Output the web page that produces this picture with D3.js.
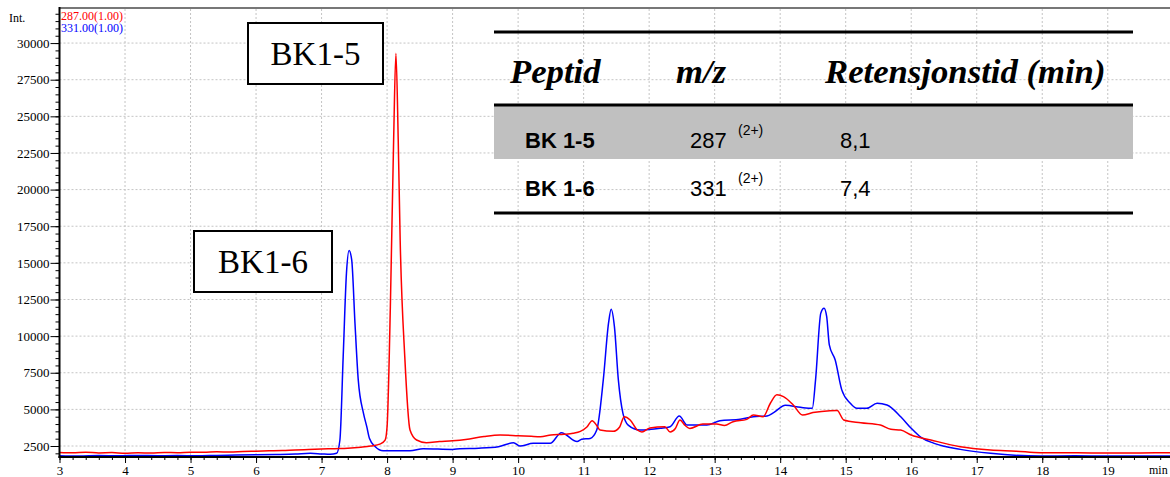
<!DOCTYPE html>
<html>
<head>
<meta charset="utf-8">
<script src="https://cdn.jsdelivr.net/npm/d3@7"></script>
<style>
  html, body { margin: 0; padding: 0; background: #fff; }
  svg { display: block; }
</style>
</head>
<body>
<div id="chart"></div>
<script>
// retention time (min) and intensity for m/z 287 (red)
var redTime = [3.0, 3.2, 3.4, 3.6, 3.8, 4.0, 4.2, 4.4, 4.6, 4.8, 5.0, 5.2, 5.4, 5.6, 5.8, 6.0, 6.2, 6.4, 6.6, 6.8,
  7.0, 7.2, 7.4, 7.6, 7.75, 7.9, 7.97, 8.0, 8.05, 8.1, 8.135, 8.17, 8.2, 8.27, 8.35, 8.45, 8.6, 8.8, 9.0, 9.2,
  9.48, 9.725, 10.0, 10.2, 10.34, 10.5, 10.7, 10.84, 10.95, 11.05, 11.13, 11.2, 11.25, 11.45, 11.55, 11.62, 11.71, 11.82, 11.89, 12.01,
  12.24, 12.32, 12.4, 12.47, 12.55, 12.62, 12.82, 13.03, 13.15, 13.28, 13.49, 13.59, 13.74, 13.85, 13.95, 14.05, 14.2, 14.34, 14.5, 14.76,
  14.87, 14.97, 15.23, 15.53, 15.69, 15.84, 16.0, 16.3, 16.75, 17.21, 17.6, 17.97, 18.5, 19.0, 19.5, 19.95];
var redInt = [2060, 2040, 2070, 2030, 2050, 2010, 2040, 2020, 2060, 2040, 2080, 2070, 2100, 2090, 2130, 2150, 2170, 2190, 2230, 2260,
  2290, 2320, 2350, 2420, 2500, 2650, 2900, 3820, 12000, 23400, 29300, 23400, 16500, 8600, 3590, 2910, 2730, 2800, 2860, 2950,
  3150, 3250, 3200, 3160, 3140, 3250, 3300, 3370, 3500, 3800, 4230, 3900, 3590, 3500, 3800, 4500, 4280, 3590, 3456, 3730,
  3820, 3460, 3700, 4280, 3900, 3700, 4000, 4000, 3900, 4160, 4320, 4620, 4500, 5420, 5990, 5870, 5300, 4620, 4780, 4910,
  4920, 4280, 4090, 3930, 3640, 3590, 3250, 2910, 2450, 2230, 2150, 2040, 2040, 2020, 2030, 2040];

// retention time (min) and intensity for m/z 331 (blue)
var blueTime = [3.0, 3.3, 3.6, 3.9, 4.2, 4.5, 4.8, 5.1, 5.4, 5.7, 6.0, 6.3, 6.6, 6.83, 7.0, 7.13, 7.23, 7.28, 7.33, 7.38,
  7.42, 7.46, 7.51, 7.56, 7.64, 7.69, 7.73, 7.82, 7.94, 8.35, 8.55, 9.0, 9.11, 9.4, 9.7, 9.93, 10.03, 10.23, 10.49, 10.66,
  10.9, 10.97, 11.1, 11.2, 11.3, 11.38, 11.42, 11.47, 11.53, 11.6, 11.68, 11.86, 12.17, 12.32, 12.46, 12.58, 12.88, 13.08, 13.39, 13.59,
  13.8, 13.9, 14.08, 14.31, 14.49, 14.54, 14.62, 14.67, 14.71, 14.75, 14.84, 14.94, 15.07, 15.17, 15.32, 15.48, 15.63, 15.84, 16.0, 16.15,
  16.35, 16.75, 17.21, 17.97, 18.5, 19.0, 19.95];
var blueInt = [1840, 1820, 1850, 1830, 1860, 1840, 1850, 1830, 1860, 1880, 1900, 1920, 1950, 2000, 1960, 1930, 2000, 2910, 8600, 14300,
  15840, 15200, 10880, 7010, 4730, 3820, 3030, 2450, 2180, 2180, 2320, 2270, 2320, 2350, 2450, 2730, 2500, 2680, 2680, 3410,
  2800, 2960, 3020, 3590, 7010, 10880, 11840, 10650, 7010, 4730, 3930, 3590, 3710, 3820, 4550, 3930, 3930, 4230, 4320, 4500,
  4550, 4780, 5280, 5140, 5070, 7010, 11570, 11910, 11330, 9400, 8370, 6330, 5420, 5070, 5070, 5420, 5300, 4500, 3710, 3090,
  2680, 2270, 2000, 1820, 1830, 1820, 1820];

var legendLabels = ["287.00(1.00)", "331.00(1.00)"];
var traceColors = ["#ff0000", "#0000ff"];

var xTicks = d3.range(3, 20);
var yTicks = d3.range(2500, 30001, 2500);

var tableHeader = ["Peptid", "m/z", "Retensjonstid (min)"];
var peptides = ["BK 1-5", "BK 1-6"];
var mzValues = ["287", "331"];
var chargeLabels = ["(2+)", "(2+)"];
var retTimes = ["8,1", "7,4"];

var boxLabels = ["BK1-5", "BK1-6"];

var W = 1170, H = 477;
var plotLeft = 59.5, plotRight = 1170, plotTop = 9, plotBottom = 457;

var svg = d3.select("#chart").append("svg")
  .attr("width", W).attr("height", H);

var x = d3.scaleLinear().domain([3, 19.95]).range([plotLeft, plotRight]);
var y = d3.scaleLinear().domain([1750, 32325]).range([plotBottom, plotTop]);

var serif = "'Liberation Serif', 'Times New Roman', serif";
var sans = "'Liberation Sans', Arial, sans-serif";

// grid
var grid = svg.append("g");
grid.selectAll(".vg").data(xTicks.slice(1)).enter().append("line")
  .attr("x1", function(d) { return x(d); }).attr("x2", function(d) { return x(d); })
  .attr("y1", plotTop).attr("y2", plotBottom)
  .attr("stroke", "#c4c4c4").attr("stroke-dasharray", "2,2");
grid.selectAll(".hg").data(yTicks).enter().append("line")
  .attr("x1", plotLeft).attr("x2", plotRight)
  .attr("y1", function(d) { return y(d); }).attr("y2", function(d) { return y(d); })
  .attr("stroke", "#c4c4c4").attr("stroke-dasharray", "2,2");

// top frame
svg.append("line").attr("x1", plotLeft).attr("x2", plotRight).attr("y1", plotTop - 1).attr("y2", plotTop - 1)
  .attr("stroke", "#777").attr("stroke-width", 2);

// table
var table = svg.append("g");
var tLeft = 494, tRight = 1133;
table.append("rect").attr("x", tLeft).attr("y", 106).attr("width", tRight - tLeft).attr("height", 53).attr("fill", "#c0c0c0");
[32, 105, 213].forEach(function(ly) {
  table.append("line").attr("x1", tLeft).attr("x2", tRight).attr("y1", ly).attr("y2", ly)
    .attr("stroke", "#000").attr("stroke-width", 3);
});
var headerX = [510, 676, 825];
tableHeader.forEach(function(h, i) {
  table.append("text").attr("x", headerX[i]).attr("y", 83)
    .attr("font-family", serif).attr("font-weight", "bold").attr("font-style", "italic")
    .attr("font-size", 34.7).text(h);
});
peptides.forEach(function(p, i) {
  var by = 148 + i * 48;
  table.append("text").attr("x", 525).attr("y", by).attr("font-family", sans).attr("font-weight", "bold")
    .attr("font-size", 22).text(p);
  table.append("text").attr("x", 690).attr("y", by).attr("font-family", sans).attr("font-size", 22).text(mzValues[i]);
  table.append("text").attr("x", 738).attr("y", by - 13).attr("font-family", sans).attr("font-size", 14).text(chargeLabels[i]);
  table.append("text").attr("x", 840).attr("y", by).attr("font-family", sans).attr("font-size", 22).text(retTimes[i]);
});

// traces
var line = d3.line()
  .curve(d3.curveMonotoneX)
  .x(function(d) { return x(d[0]); })
  .y(function(d) { return y(d[1]); });

var blueData = d3.zip(blueTime, blueInt);
var redData = d3.zip(redTime, redInt);

svg.append("path").datum(blueData).attr("d", line)
  .attr("fill", "none").attr("stroke", traceColors[1]).attr("stroke-width", 1.5).attr("stroke-linejoin", "round");
svg.append("path").datum(redData).attr("d", line)
  .attr("fill", "none").attr("stroke", traceColors[0]).attr("stroke-width", 1.5).attr("stroke-linejoin", "round");

// peak label boxes
var boxes = [{ x: 248, y: 23, w: 135, h: 61 }, { x: 194, y: 231, w: 138, h: 61 }];
boxLabels.forEach(function(b, i) {
  var bx = boxes[i];
  svg.append("rect").attr("x", bx.x).attr("y", bx.y).attr("width", bx.w).attr("height", bx.h)
    .attr("fill", "#fff").attr("stroke", "#000").attr("stroke-width", 2);
  svg.append("text").attr("x", bx.x + bx.w / 2).attr("y", bx.y + bx.h / 2 + 11)
    .attr("text-anchor", "middle").attr("font-family", serif).attr("font-size", 33).text(b);
});

// y axis
var yAxis = svg.append("g").attr("transform", "translate(" + plotLeft + ",0)")
  .call(d3.axisLeft(y).tickValues(d3.range(2000, 32001, 500)).tickSize(4).tickFormat(""));
yAxis.select(".domain").remove();
svg.append("g").attr("transform", "translate(" + plotLeft + ",0)")
  .call(d3.axisLeft(y).tickValues(yTicks).tickSize(9).tickPadding(1).tickFormat(d3.format("d")))
  .call(function(g) { g.select(".domain").remove(); })
  .selectAll("text").attr("font-family", serif).attr("font-size", 13).attr("fill", "#000");
svg.selectAll(".tick line").attr("stroke", "#000");
svg.append("line").attr("x1", plotLeft).attr("x2", plotLeft).attr("y1", plotTop - 2).attr("y2", plotBottom + 1)
  .attr("stroke", "#000").attr("stroke-width", 2);

// x axis
svg.append("g").attr("transform", "translate(0," + plotBottom + ")")
  .call(d3.axisBottom(x).tickValues(d3.range(3, 19.9, 0.2)).tickSize(3).tickFormat(""))
  .call(function(g) { g.select(".domain").remove(); })
  .selectAll("line").attr("stroke", "#000");
svg.append("g").attr("transform", "translate(0," + plotBottom + ")")
  .call(d3.axisBottom(x).tickValues(xTicks).tickSize(6).tickPadding(3).tickFormat(d3.format("d")))
  .call(function(g) { g.select(".domain").remove(); })
  .call(function(g) { g.selectAll("line").attr("stroke", "#000"); })
  .selectAll("text").attr("font-family", serif).attr("font-size", 13).attr("fill", "#000");
svg.append("line").attr("x1", plotLeft - 1).attr("x2", plotRight).attr("y1", plotBottom).attr("y2", plotBottom)
  .attr("stroke", "#000").attr("stroke-width", 2);
svg.append("text").attr("x", 1149).attr("y", 474).attr("font-family", serif).attr("font-size", 12).text("min");

// axis caption and legend
svg.append("text").attr("x", 9).attr("y", 22).attr("font-family", serif).attr("font-size", 12).text("Int.");
legendLabels.forEach(function(l, i) {
  svg.append("text").attr("x", 61).attr("y", 20 + i * 12).attr("font-family", serif).attr("font-size", 12)
    .attr("fill", traceColors[i]).text(l);
});
</script>
</body>
</html>
